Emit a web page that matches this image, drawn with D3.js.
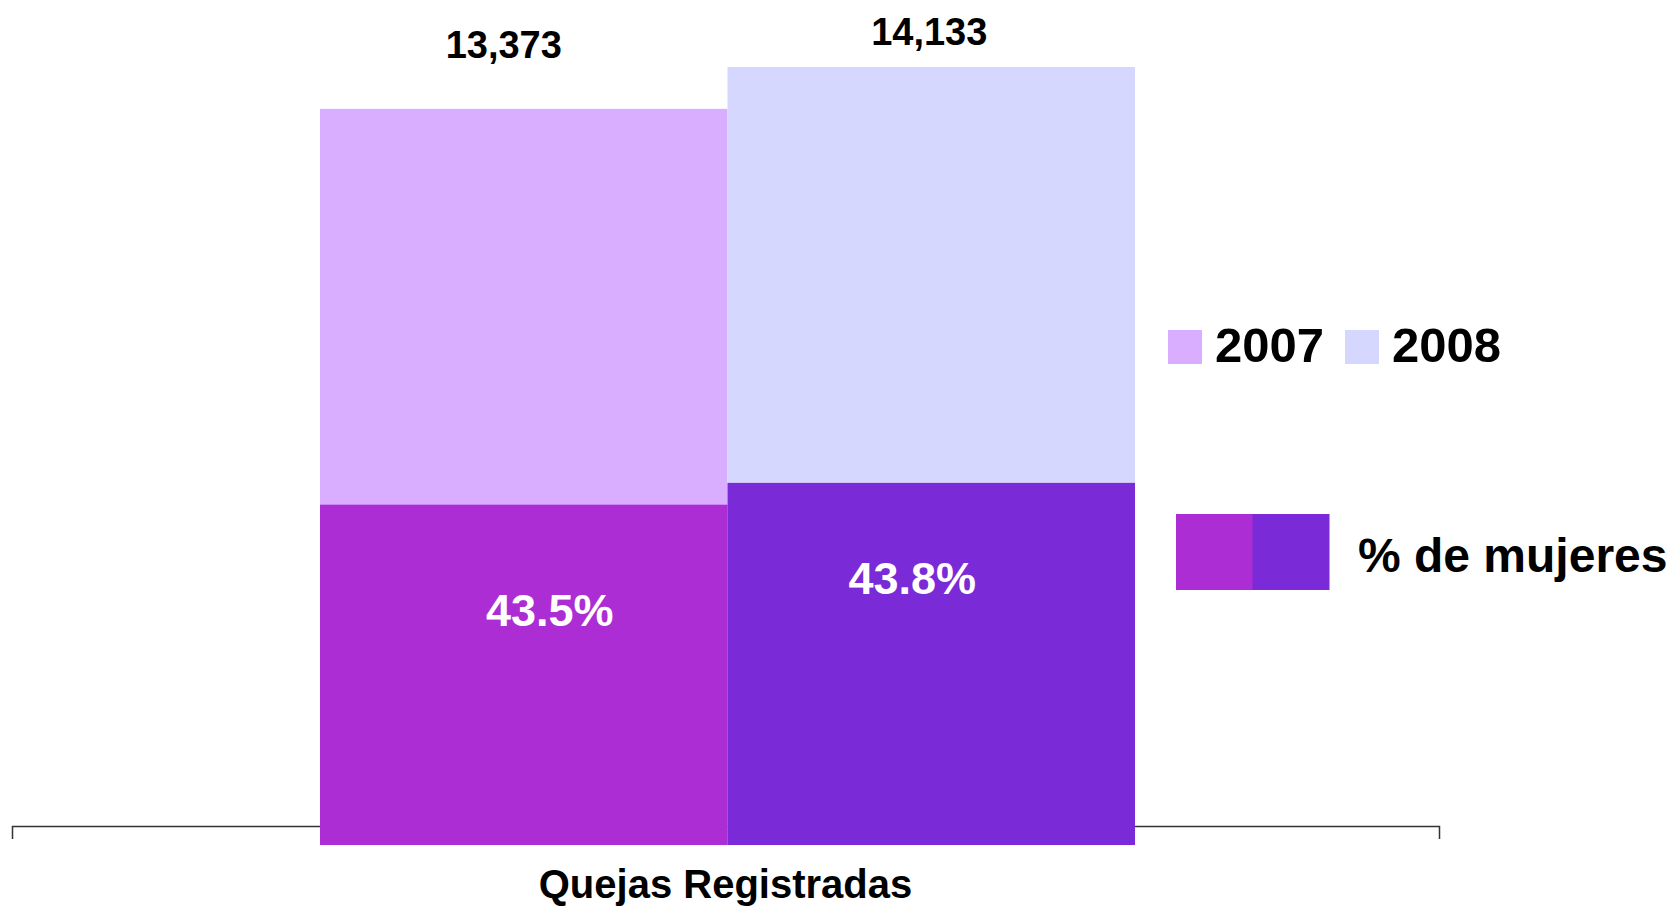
<!DOCTYPE html>
<html lang="es">
<head>
    <meta charset="UTF-8">
    <title>Quejas Registradas</title>
    <style>
        body { margin: 0; background: #ffffff; }
        svg text { font-family: "Liberation Sans", Arial, sans-serif; font-weight: bold; }
        .axis path { stroke: #333333; stroke-width: 1.5; }
    </style>
    <script src="https://cdn.jsdelivr.net/npm/d3@7/dist/d3.min.js"></script>
</head>
<body>
<div id="main"></div>
<script>
    // datos
    const years = ['2007', '2008'];
    const totals = [13373, 14133];
    const pctMujeres = [43.5, 43.8];
    const categories = ['Quejas Registradas'];
    const pctLegend = '% de mujeres';

    const lightColors = ['#d9adff', '#d5d7ff'];
    const darkColors = ['#ac2dd3', '#7a2ad6'];

    // mujeres = total * %
    const mujeres = totals.map((t, i) => Math.round(t * pctMujeres[i] / 100));

    const width = 1667, height = 907;
    const base = 845;

    const svg = d3.select('#main').append('svg')
        .attr('width', width)
        .attr('height', height);

    // escalas
    const xCat = d3.scaleBand().domain(categories).range([12, 1439]);
    const x = d3.scaleBand().domain(years).range([320, 1135]);
    const y = d3.scaleLinear().domain([0, 14133]).range([base, 67]);
    const yMuj = d3.scaleLinear().domain([0, 6000]).range([base, 494]);

    // eje (debajo de las barras)
    svg.append('g')
        .attr('class', 'axis')
        .attr('transform', 'translate(0,826)')
        .call(d3.axisBottom(xCat).tickSizeInner(0).tickSizeOuter(13).tickPadding(44))
        .call(g => g.selectAll('.tick text')
            .attr('fill', '#000')
            .style('font-size', '40px'));

    // barras totales
    svg.selectAll('rect.total')
        .data(years)
        .enter()
        .append('rect')
        .attr('class', 'total')
        .attr('x', d => x(d))
        .attr('width', x.bandwidth())
        .attr('y', (d, i) => y(totals[i]))
        .attr('height', (d, i) => base - y(totals[i]))
        .attr('fill', (d, i) => lightColors[i]);

    // barras mujeres
    svg.selectAll('rect.muj')
        .data(years)
        .enter()
        .append('rect')
        .attr('class', 'muj')
        .attr('x', d => x(d))
        .attr('width', x.bandwidth())
        .attr('y', (d, i) => yMuj(mujeres[i]))
        .attr('height', (d, i) => base - yMuj(mujeres[i]))
        .attr('fill', (d, i) => darkColors[i]);

    // etiquetas totales
    const totalShift = [[-20, -51], [-2, -22]];
    svg.selectAll('text.total')
        .data(years)
        .enter()
        .append('text')
        .attr('class', 'total')
        .attr('x', d => x(d) + x.bandwidth() / 2)
        .attr('y', (d, i) => y(totals[i]))
        .attr('dx', (d, i) => totalShift[i][0])
        .attr('dy', (d, i) => totalShift[i][1])
        .attr('text-anchor', 'middle')
        .style('font-size', '38px')
        .text((d, i) => d3.format(',')(totals[i]));

    // etiquetas %
    const pctShift = [[26, 121], [-19, 111]];
    svg.selectAll('text.pct')
        .data(years)
        .enter()
        .append('text')
        .attr('class', 'pct')
        .attr('x', d => x(d) + x.bandwidth() / 2)
        .attr('y', (d, i) => yMuj(mujeres[i]))
        .attr('dx', (d, i) => pctShift[i][0])
        .attr('dy', (d, i) => pctShift[i][1])
        .attr('text-anchor', 'middle')
        .attr('fill', '#ffffff')
        .style('font-size', '45px')
        .text((d, i) => pctMujeres[i].toFixed(1) + '%');

    // leyenda años
    const legX = [1168, 1345];
    const leg = svg.selectAll('g.leg')
        .data(years)
        .enter()
        .append('g')
        .attr('class', 'leg')
        .attr('transform', (d, i) => `translate(${legX[i]},330)`);

    leg.append('rect')
        .attr('width', 34)
        .attr('height', 34)
        .attr('fill', (d, i) => lightColors[i]);

    leg.append('text')
        .attr('x', 47)
        .attr('y', 32)
        .style('font-size', '49px')
        .text(d => d);

    // leyenda % de mujeres
    const legP = svg.append('g').attr('transform', 'translate(1176,514)');
    legP.selectAll('rect')
        .data(darkColors)
        .enter()
        .append('rect')
        .attr('x', (d, i) => i * 76.5)
        .attr('width', 77)
        .attr('height', 76)
        .attr('fill', d => d);

    legP.append('text')
        .attr('x', 182)
        .attr('y', 58)
        .style('font-size', '48px')
        .text(pctLegend);
</script>
</body>
</html>
